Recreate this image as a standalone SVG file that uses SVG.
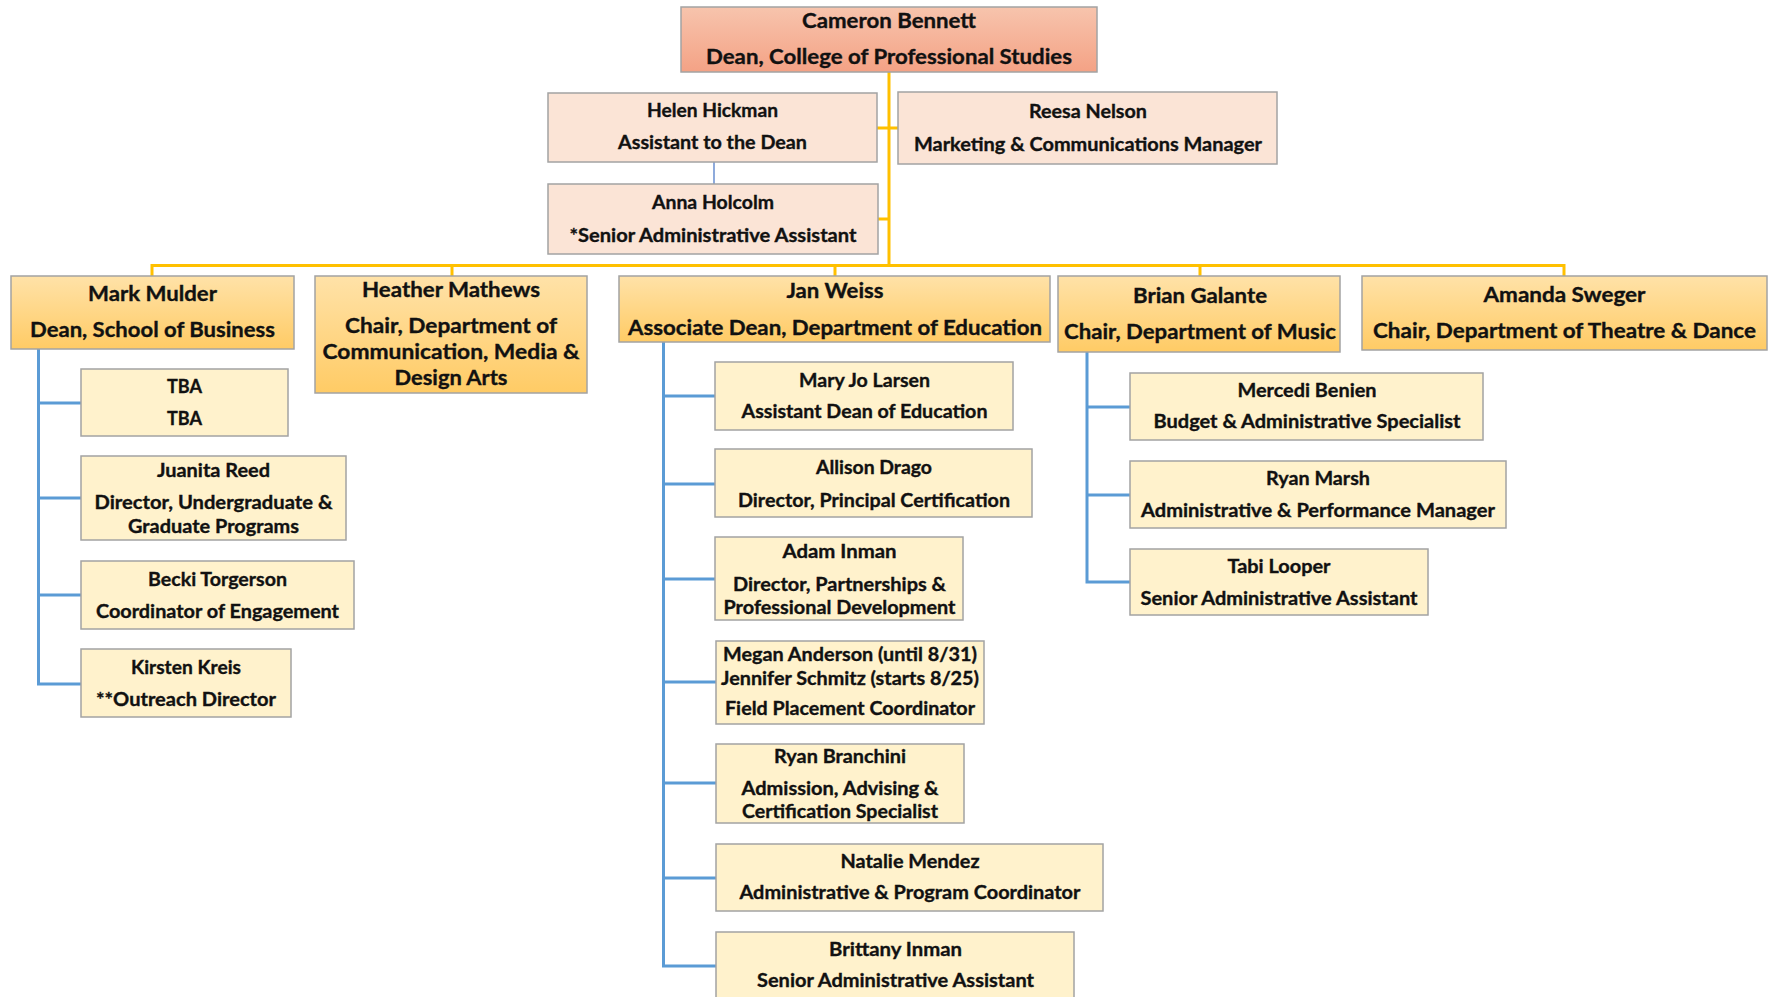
<svg xmlns="http://www.w3.org/2000/svg" width="1775" height="997" viewBox="0 0 1775 997">
<defs>
<linearGradient id="gTop" x1="0" y1="0" x2="0" y2="1"><stop offset="0" stop-color="#F7C4AD"/><stop offset="1" stop-color="#F4A285"/></linearGradient>
<linearGradient id="gMid" x1="0" y1="0" x2="0" y2="1"><stop offset="0" stop-color="#FFE2A8"/><stop offset="1" stop-color="#FFCB65"/></linearGradient>
<style>
.box{stroke:#A3A3A3;stroke-width:1.5}
.top{fill:url(#gTop)}
.mid{fill:url(#gMid)}
.asst{fill:#FBE4D6}
.staff{fill:#FFF2CC}
text{font-family:Lato,"Liberation Sans",sans-serif;font-weight:bold;fill:#111;stroke:#111;stroke-width:0.35;text-anchor:middle}
.f1{font-size:21px}
.f2{font-size:21px}
.f3{font-size:19px}
.gold{stroke:#FFC000;stroke-width:3;fill:none}
.blue{stroke:#5B9BD5;stroke-width:3;fill:none}
.thin{stroke:#4472C4;stroke-width:1.2;fill:none}
</style>
</defs>
<g id="connectors">
<path class="gold" d="M889,72 V265.5 M152,265.5 H1564 M152,264 V276 M452,264 V276 M835,264 V276 M1200,264 V276 M1564,264 V276 M877,128 H898 M878,219 H889"/>
<path class="thin" d="M714,162 V184"/>
<path class="blue" d="M38.5,349 V684 M37,403 H81 M37,498 H81 M37,595 H81 M37,684 H81"/>
<path class="blue" d="M663.5,342 V966 M662,396 H716 M662,484 H716 M662,579 H716 M662,682 H716 M662,783 H716 M662,878 H716 M662,966 H716"/>
<path class="blue" d="M1087,352 V582 M1085.5,407 H1130 M1085.5,495 H1130 M1085.5,582 H1130"/>
</g>
<g id="n-cameron"><rect class="box top" x="681" y="7" width="416" height="65"/>
<text class="f1" x="889" y="28" textLength="174" lengthAdjust="spacingAndGlyphs">Cameron Bennett</text>
<text class="f1" x="889" y="64" textLength="366" lengthAdjust="spacingAndGlyphs">Dean, College of Professional Studies</text></g>
<g id="n-helen"><rect class="box asst" x="548" y="93" width="329" height="69"/>
<text class="f3" x="712.5" y="117" textLength="131" lengthAdjust="spacingAndGlyphs">Helen Hickman</text>
<text class="f3" x="712.5" y="149" textLength="189" lengthAdjust="spacingAndGlyphs">Assistant to the Dean</text></g>
<g id="n-anna"><rect class="box asst" x="548" y="184" width="330" height="70"/>
<text class="f3" x="713" y="209" textLength="122" lengthAdjust="spacingAndGlyphs">Anna Holcolm</text>
<text class="f3" x="713" y="242" textLength="287" lengthAdjust="spacingAndGlyphs">*Senior Administrative Assistant</text></g>
<g id="n-reesa"><rect class="box asst" x="898" y="92" width="379" height="72"/>
<text class="f3" x="1088" y="118" textLength="118" lengthAdjust="spacingAndGlyphs">Reesa Nelson</text>
<text class="f3" x="1088" y="151" textLength="348" lengthAdjust="spacingAndGlyphs">Marketing &amp; Communications Manager</text></g>
<g id="n-mark"><rect class="box mid" x="11" y="276" width="283" height="73"/>
<text class="f2" x="152.5" y="301" textLength="129" lengthAdjust="spacingAndGlyphs">Mark Mulder</text>
<text class="f2" x="152.5" y="337" textLength="245" lengthAdjust="spacingAndGlyphs">Dean, School of Business</text></g>
<g id="n-heather"><rect class="box mid" x="315" y="276" width="272" height="117"/>
<text class="f2" x="451" y="297" textLength="178" lengthAdjust="spacingAndGlyphs">Heather Mathews</text>
<text class="f2" x="451" y="333" textLength="212" lengthAdjust="spacingAndGlyphs">Chair, Department of</text>
<text class="f2" x="451" y="359" textLength="257" lengthAdjust="spacingAndGlyphs">Communication, Media &amp;</text>
<text class="f2" x="451" y="385" textLength="113" lengthAdjust="spacingAndGlyphs">Design Arts</text></g>
<g id="n-jan"><rect class="box mid" x="619" y="276" width="431" height="66"/>
<text class="f2" x="835" y="298" textLength="97" lengthAdjust="spacingAndGlyphs">Jan Weiss</text>
<text class="f2" x="835" y="335" textLength="414" lengthAdjust="spacingAndGlyphs">Associate Dean, Department of Education</text></g>
<g id="n-brian"><rect class="box mid" x="1058" y="276" width="282" height="76"/>
<text class="f2" x="1200" y="303" textLength="134" lengthAdjust="spacingAndGlyphs">Brian Galante</text>
<text class="f2" x="1200" y="339" textLength="272" lengthAdjust="spacingAndGlyphs">Chair, Department of Music</text></g>
<g id="n-amanda"><rect class="box mid" x="1362" y="276" width="405" height="74"/>
<text class="f2" x="1564.5" y="302" textLength="162" lengthAdjust="spacingAndGlyphs">Amanda Sweger</text>
<text class="f2" x="1564.5" y="338" textLength="383" lengthAdjust="spacingAndGlyphs">Chair, Department of Theatre &amp; Dance</text></g>
<g id="n-tba"><rect class="box staff" x="81" y="369" width="207" height="67"/>
<text class="f3" x="184.5" y="393" textLength="35" lengthAdjust="spacingAndGlyphs">TBA</text>
<text class="f3" x="184.5" y="425" textLength="35" lengthAdjust="spacingAndGlyphs">TBA</text></g>
<g id="n-juanita"><rect class="box staff" x="81" y="456" width="265" height="84"/>
<text class="f3" x="213.5" y="477" textLength="113" lengthAdjust="spacingAndGlyphs">Juanita Reed</text>
<text class="f3" x="213.5" y="509" textLength="238" lengthAdjust="spacingAndGlyphs">Director, Undergraduate &amp;</text>
<text class="f3" x="213.5" y="533" textLength="171" lengthAdjust="spacingAndGlyphs">Graduate Programs</text></g>
<g id="n-becki"><rect class="box staff" x="81" y="561" width="273" height="68"/>
<text class="f3" x="217.5" y="586" textLength="139" lengthAdjust="spacingAndGlyphs">Becki Torgerson</text>
<text class="f3" x="217.5" y="618" textLength="243" lengthAdjust="spacingAndGlyphs">Coordinator of Engagement</text></g>
<g id="n-kirsten"><rect class="box staff" x="81" y="649" width="210" height="68"/>
<text class="f3" x="186" y="674" textLength="110" lengthAdjust="spacingAndGlyphs">Kirsten Kreis</text>
<text class="f3" x="186" y="706" textLength="180" lengthAdjust="spacingAndGlyphs">**Outreach Director</text></g>
<g id="n-maryjo"><rect class="box staff" x="715" y="362" width="298" height="68"/>
<text class="f3" x="864.5" y="387" textLength="131" lengthAdjust="spacingAndGlyphs">Mary Jo Larsen</text>
<text class="f3" x="864.5" y="418" textLength="246" lengthAdjust="spacingAndGlyphs">Assistant Dean of Education</text></g>
<g id="n-allison"><rect class="box staff" x="715" y="449" width="317" height="68"/>
<text class="f3" x="874" y="474" textLength="116" lengthAdjust="spacingAndGlyphs">Allison Drago</text>
<text class="f3" x="874" y="507" textLength="272" lengthAdjust="spacingAndGlyphs">Director, Principal Certification</text></g>
<g id="n-adam"><rect class="box staff" x="715" y="537" width="248" height="83"/>
<text class="f3" x="839.5" y="558" textLength="114" lengthAdjust="spacingAndGlyphs">Adam Inman</text>
<text class="f3" x="839.5" y="591" textLength="213" lengthAdjust="spacingAndGlyphs">Director, Partnerships &amp;</text>
<text class="f3" x="839.5" y="614" textLength="232" lengthAdjust="spacingAndGlyphs">Professional Development</text></g>
<g id="n-megan"><rect class="box staff" x="716" y="641" width="268" height="83"/>
<text class="f3" x="850" y="661" textLength="254" lengthAdjust="spacingAndGlyphs">Megan Anderson (until 8/31)</text>
<text class="f3" x="850" y="685" textLength="258" lengthAdjust="spacingAndGlyphs">Jennifer Schmitz (starts 8/25)</text>
<text class="f3" x="850" y="715" textLength="250" lengthAdjust="spacingAndGlyphs">Field Placement Coordinator</text></g>
<g id="n-ryanb"><rect class="box staff" x="716" y="744" width="248" height="79"/>
<text class="f3" x="840" y="763" textLength="132" lengthAdjust="spacingAndGlyphs">Ryan Branchini</text>
<text class="f3" x="840" y="795" textLength="197" lengthAdjust="spacingAndGlyphs">Admission, Advising &amp;</text>
<text class="f3" x="840" y="818" textLength="196" lengthAdjust="spacingAndGlyphs">Certification Specialist</text></g>
<g id="n-natalie"><rect class="box staff" x="716" y="844" width="387" height="67"/>
<text class="f3" x="910" y="868" textLength="139" lengthAdjust="spacingAndGlyphs">Natalie Mendez</text>
<text class="f3" x="910" y="899" textLength="341" lengthAdjust="spacingAndGlyphs">Administrative &amp; Program Coordinator</text></g>
<g id="n-brittany"><rect class="box staff" x="716" y="932" width="358" height="70"/>
<text class="f3" x="895.5" y="956" textLength="133" lengthAdjust="spacingAndGlyphs">Brittany Inman</text>
<text class="f3" x="895.5" y="987" textLength="277" lengthAdjust="spacingAndGlyphs">Senior Administrative Assistant</text></g>
<g id="n-mercedi"><rect class="box staff" x="1130" y="373" width="353" height="67"/>
<text class="f3" x="1307" y="397" textLength="139" lengthAdjust="spacingAndGlyphs">Mercedi Benien</text>
<text class="f3" x="1307" y="428" textLength="307" lengthAdjust="spacingAndGlyphs">Budget &amp; Administrative Specialist</text></g>
<g id="n-ryanm"><rect class="box staff" x="1130" y="461" width="376" height="67"/>
<text class="f3" x="1318" y="485" textLength="104" lengthAdjust="spacingAndGlyphs">Ryan Marsh</text>
<text class="f3" x="1318" y="517" textLength="354" lengthAdjust="spacingAndGlyphs">Administrative &amp; Performance Manager</text></g>
<g id="n-tabi"><rect class="box staff" x="1130" y="549" width="298" height="66"/>
<text class="f3" x="1279" y="573" textLength="103" lengthAdjust="spacingAndGlyphs">Tabi Looper</text>
<text class="f3" x="1279" y="605" textLength="277" lengthAdjust="spacingAndGlyphs">Senior Administrative Assistant</text></g>
</svg>
